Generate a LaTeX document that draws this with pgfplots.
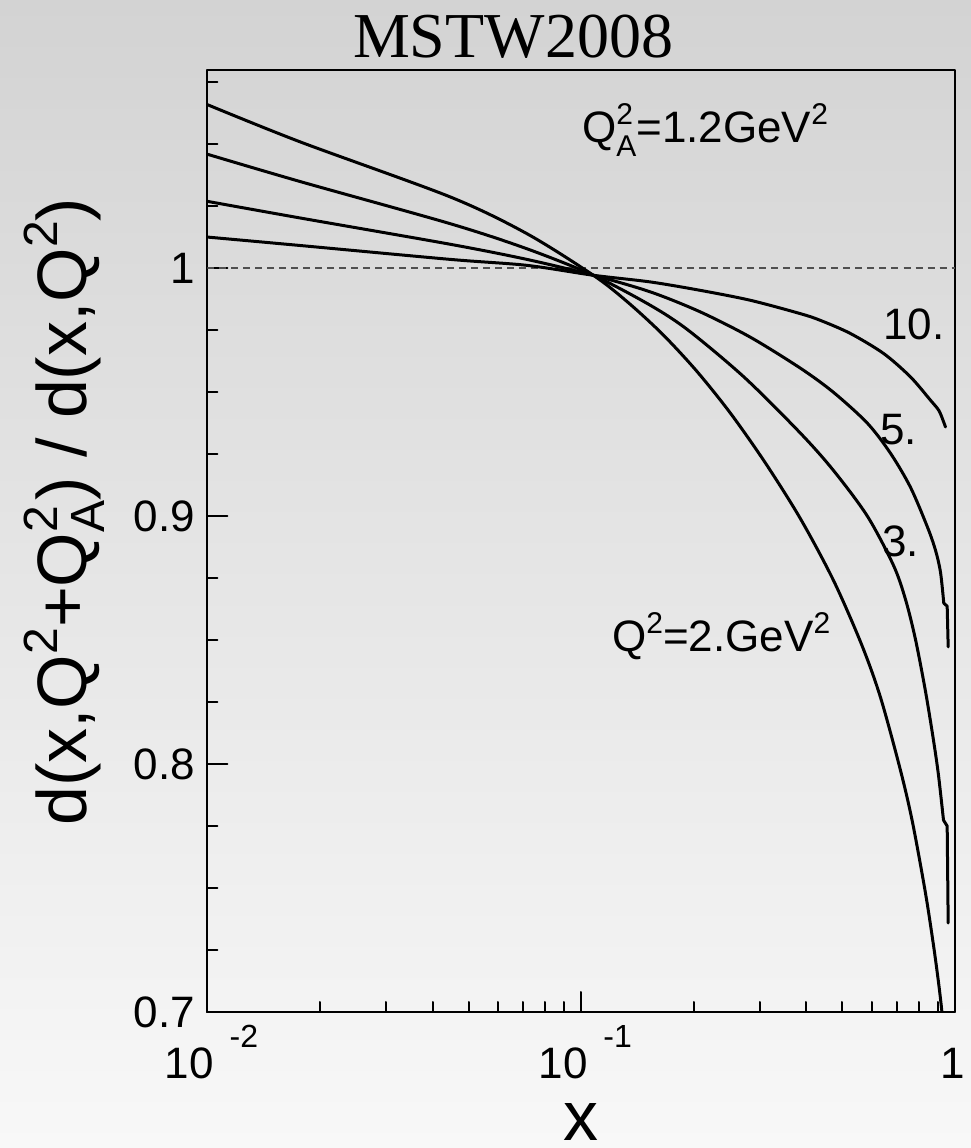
\documentclass[border=0pt]{standalone}
\usepackage{fontspec}
\setmainfont{Liberation Sans}
\newfontfamily\timesfont{Liberation Serif}
\usepackage{pgfplots}
\pgfplotsset{compat=1.18}
\definecolor{bgtop}{RGB}{211,211,211}
\definecolor{bgbot}{RGB}{248,248,248}
\definecolor{dashc}{RGB}{80,80,80}
\newcommand{\fs}[1]{\fontsize{#1}{#1}\selectfont}
\newcommand{\ssA}[2]{\makebox[0pt][l]{\raisebox{18pt}{\fs{30}#1}}\raisebox{-14pt}{\fs{30}#2}}
\newcommand{\supA}[1]{\raisebox{18pt}{\fs{30}#1}}
\newcommand{\ssB}[2]{\makebox[0pt][l]{\raisebox{29pt}{\fs{48}#1}}\raisebox{-18pt}{\fs{48}#2}}
\newcommand{\supB}[1]{\raisebox{29pt}{\fs{48}#1}}
\newcommand{\xlab}[1]{10\hspace{16pt}\raisebox{31pt}{\fs{32}#1}}
\begin{document}
\begin{tikzpicture}[x=1pt,y=1pt]
\shade[top color=bgtop, bottom color=bgbot] (0,0) rectangle (971,1148);
\begin{axis}[
  at={(207.5pt,136pt)}, anchor=south west,
  width=747.5pt, height=942pt, scale only axis,
  xmode=log, xmin=0.01, xmax=1, ymin=0.7, ymax=1.08,
  axis line style={black, line width=2pt},
  tick style={black, line width=2pt},
  major tick length=20pt, minor tick length=10pt,
  tick align=inside, xtick pos=bottom, ytick pos=left,
  xtick={0.01,0.1,1},
  xticklabels={\xlab{-2},\xlab{-1},\hspace*{-13pt}1},
  minor xtick={0.02,0.03,0.04,0.05,0.06,0.07,0.08,0.09,0.2,0.3,0.4,0.5,0.6,0.7,0.8,0.9},
  xticklabel style={font=\fs{44}, anchor=base, yshift=-66pt, xshift=4pt},
  ytick={0.7,0.8,0.9,1.0},
  yticklabels={0.7,0.8,0.9,1},
  minor ytick={0.725,0.75,0.775,0.825,0.85,0.875,0.925,0.95,0.975,1.025,1.05,1.075},
  yticklabel style={font=\fs{44}, anchor=east, inner sep=0pt, xshift=-12.5pt},
  every axis x label/.style={at={(axis description cs:0.5,0)}, anchor=base, inner sep=0pt, yshift=-128pt, font=\fs{70}},
  every axis y label/.style={at={(axis description cs:-0.162,0.531)}, rotate=90, anchor=base, font=\fs{70}},
  xlabel={x},
  ylabel={d(x,Q\supB{2}+Q\ssB{2}{A}) / d(x,Q\supB{2})},
  line join=round, line cap=round,
]
\addplot[dashc, line width=2pt, dash pattern=on 7pt off 5pt, line cap=butt] coordinates {(0.01,1) (1,1)};
% Q^2 = 2
\addplot[black, line width=3pt, smooth, tension=0.5] coordinates {
(0.01,1.066) (0.0177,1.051) (0.0446,1.0288) (0.0715,1.014) (0.1077,0.9972)
(0.1328,0.9865) (0.1648,0.9735) (0.2032,0.9587) (0.2506,0.9416) (0.3109,0.9215)
(0.3859,0.899) (0.4727,0.8742) (0.5619,0.8484) (0.6317,0.827) (0.7145,0.7976)
(0.7695,0.7766) (0.8337,0.748) (0.8758,0.727) (0.9032,0.7121) (0.9203,0.7016) (0.9316,0.6927)};
% Q^2 = 3
\addplot[black, line width=3pt, smooth, tension=0.5] coordinates {
(0.01,1.046) (0.0177,1.035) (0.0446,1.018) (0.0715,1.0079) (0.1077,0.9972)
(0.153,0.9851) (0.1934,0.975) (0.2732,0.956) (0.3859,0.9335) (0.4727,0.9185)
(0.583,0.9) (0.6845,0.8802) (0.7370,0.8665) (0.7838,0.8504) (0.8337,0.8294)
(0.8758,0.8097) (0.9032,0.7956) (0.9316,0.7774)};
\addplot[black, line width=3pt] coordinates {
(0.9316,0.7774) (0.9530,0.775) (0.9589,0.7359)};
% Q^2 = 5
\addplot[black, line width=3pt, smooth, tension=0.5] coordinates {
(0.01,1.027) (0.0177,1.0203) (0.0446,1.0097) (0.0715,1.0036) (0.1077,0.9972)
(0.153,0.9905) (0.2083,0.9824) (0.2835,0.9722) (0.3859,0.9597) (0.4727,0.95)
(0.583,0.9375) (0.672,0.9254) (0.7601,0.9117) (0.844,0.8956) (0.8867,0.8863)
(0.9146,0.8774) (0.9333,0.8649)};
\addplot[black, line width=3pt] coordinates {
(0.9333,0.8649) (0.9530,0.8637) (0.9589,0.8473)};
% Q^2 = 10
\addplot[black, line width=3pt, smooth, tension=0.5] coordinates {
(0.01,1.0126) (0.0177,1.0092) (0.0446,1.0036) (0.0715,1.0012) (0.1077,0.9972)
(0.153,0.9945) (0.2083,0.9911) (0.2835,0.9871) (0.3859,0.9817) (0.4363,0.9790)
(0.5251,0.9737) (0.6447,0.9656) (0.7601,0.9562) (0.8597,0.9468) (0.9049,0.9427)
(0.930,0.9385) (0.943,0.9360)};
\end{axis}
\node[anchor=base, font=\timesfont\fs{64}] at (513,1090) {MSTW2008};
\node[anchor=base west, font=\fs{44}, inner sep=0pt] at (582,1005) {Q\ssA{2}{A}=1.2GeV\supA{2}};
\node[anchor=base west, font=\fs{44}, inner sep=0pt] at (612,496) {Q\supA{2}=2.GeV\supA{2}};
\node[anchor=base west, font=\fs{44}, inner sep=0pt] at (883,808) {10.};
\node[anchor=base west, font=\fs{44}, inner sep=0pt] at (880,703) {5.};
\node[anchor=base west, font=\fs{44}, inner sep=0pt] at (882,591) {3.};
\pgfresetboundingbox
\path (0,0) rectangle (971,1148);
\end{tikzpicture}
\end{document}
